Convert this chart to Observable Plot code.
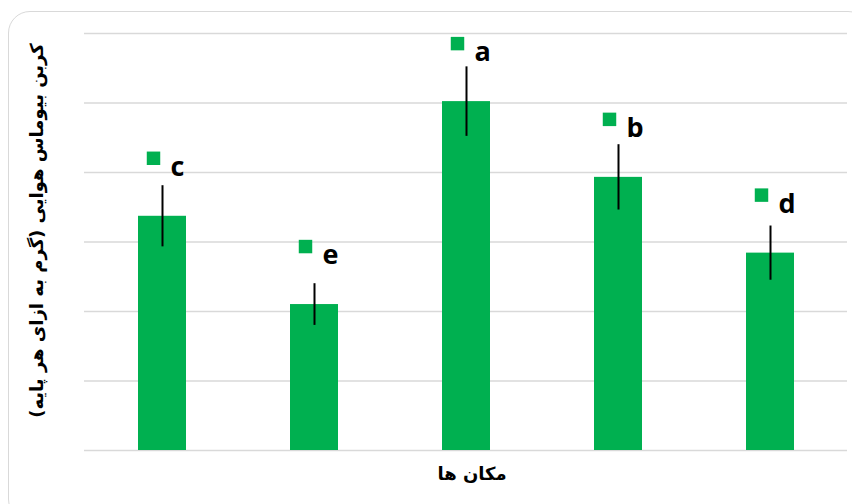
<!DOCTYPE html>
<html>
<head>
<meta charset="utf-8">
<script src="https://cdn.jsdelivr.net/npm/d3@7"></script>
<script src="https://cdn.jsdelivr.net/npm/@observablehq/plot@0.6"></script>
<style>
  html, body { margin: 0; padding: 0; background: #fff; overflow: hidden; }
  #wrap { position: relative; width: 852px; height: 504px; }
  #box { position: absolute; left: 8px; top: 11px; width: 862px; height: 510px;
         border: 1.5px solid #d9d9d9; border-radius: 22px; box-sizing: border-box; }
  #chart { position: absolute; left: 0; top: 0; }
</style>
</head>
<body>
<div id="wrap"><div id="box"></div><div id="chart"></div></div>
<script>
// Aboveground biomass carbon per tree at five sites, with standard error
// and the mean-separation letter for each site.
const sites = ["1", "2", "3", "4", "5"];
const values = [337, 210, 502, 393, 284];
const errors = [44, 30, 50, 47, 39];
const letters = ["c", "e", "a", "b", "d"];
const gridTicks = [0, 100, 200, 300, 400, 500, 600];

const yTitle = "کربن بیوماس هوایی (گرم به ازای هر پایه)\u200F";
const xTitle = "مکان ها";

const green = "#00b050";
const data = sites.map((s, i) => ({site: s, value: values[i], err: errors[i], letter: letters[i]}));

const chart = Plot.plot({
  width: 852,
  height: 504,
  marginTop: 33,
  marginBottom: 54,
  marginLeft: 84,
  marginRight: 5,
  style: {background: "transparent"},
  x: {domain: sites, paddingInner: 0.685, paddingOuter: 0.3425, axis: null},
  y: {domain: [0, 600], axis: null},
  marks: [
    Plot.ruleY(gridTicks, {stroke: "#d9d9d9", strokeWidth: 1.5}),
    Plot.barY(data, {x: "site", y: "value", fill: green}),
    Plot.ruleX(data, {x: "site", y1: d => d.value - d.err, y2: d => d.value + d.err, stroke: "#000", strokeWidth: 2}),
    Plot.dot(data, {x: "site", y: "value", symbol: "square", r: 7.6, fill: green, stroke: null, dx: -9, dy: -58}),
    Plot.text(data, {x: "site", y: "value", text: "letter", dx: 8, dy: -49, textAnchor: "start",
      fontSize: 27, fontWeight: "bold", fontFamily: "Open Sans", fill: "#000"}),
    Plot.text([yTitle], {frameAnchor: "left", textAnchor: "middle", rotate: -90, dx: -47, dy: -11.5,
      fontSize: 18, fontWeight: "bold", fontFamily: "DejaVu Sans", fill: "#000"}),
    Plot.text([xTitle], {frameAnchor: "bottom", dx: 6, dy: 29,
      fontSize: 18, fontWeight: "bold", fontFamily: "DejaVu Sans", fill: "#000"})
  ]
});
document.getElementById("chart").appendChild(chart);
</script>
</body>
</html>
